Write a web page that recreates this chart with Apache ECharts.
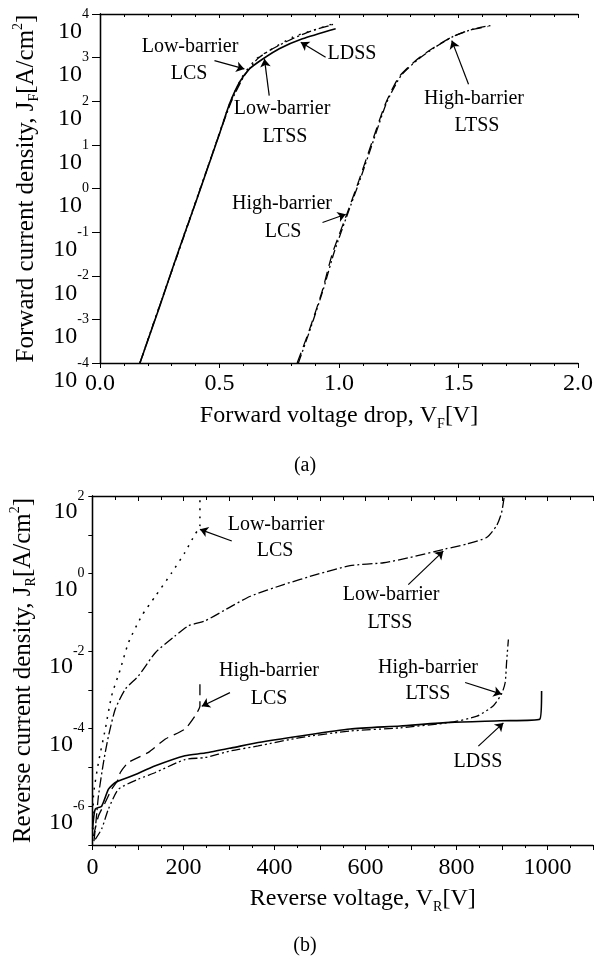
<!DOCTYPE html>
<html><head><meta charset="utf-8">
<script src="https://cdn.jsdelivr.net/npm/echarts@6/dist/echarts.min.js"></script>
<style>html,body{margin:0;padding:0;background:#fff}#c{width:596px;height:959px}</style>
</head><body><div id="c"></div>
<script>
// ================= DATA: (a) forward characteristics =================
const fwdTickLabels = ['0.0', '0.5', '1.0', '1.5', '2.0'];
const fwdLowLDSS_V = [0.167, 0.20, 0.25, 0.30, 0.35, 0.40, 0.45, 0.50, 0.542, 0.585, 0.625, 0.681, 0.75, 0.847, 0.986];
const fwdLowLDSS_J = [1e-4, 3.3e-4, 2e-3, 1.3e-2, 8e-2, 0.47, 2.9, 18, 87, 280, 550, 930, 1600, 2700, 4600];
const fwdLowLCS_V = [0.167, 0.20, 0.25, 0.30, 0.35, 0.40, 0.45, 0.50, 0.545, 0.597, 0.653, 0.708, 0.806, 0.889, 0.972];
const fwdLowLCS_J = [1e-4, 3.4e-4, 2.1e-3, 1.3e-2, 8.2e-2, 0.5, 3, 19, 95, 380, 930, 1450, 2950, 4200, 5900];
const fwdLowLTSS_V = [0.167, 0.21, 0.26, 0.31, 0.36, 0.41, 0.46, 0.51, 0.55, 0.60, 0.66, 0.72, 0.80, 0.88, 0.975];
const fwdLowLTSS_J = [1e-4, 4.8e-4, 3e-3, 1.8e-2, 0.11, 0.69, 4.3, 26, 100, 355, 950, 1580, 2630, 4000, 5750];
const fwdHighLCS_V = [0.825, 0.875, 0.93, 0.972, 1.035, 1.083, 1.139, 1.194, 1.25, 1.32, 1.389, 1.472, 1.542, 1.625];
const fwdHighLCS_J = [1e-4, 5.5e-4, 4.5e-3, 3.2e-2, 0.28, 1.5, 12, 87, 355, 850, 1600, 2950, 4200, 5200];
const fwdHighLTSS_V = [0.83, 0.88, 0.935, 0.98, 1.04, 1.09, 1.145, 1.20, 1.26, 1.33, 1.40, 1.48, 1.56, 1.646];
const fwdHighLTSS_J = [1e-4, 6e-4, 5e-3, 3.5e-2, 0.3, 1.7, 13, 95, 390, 900, 1700, 3100, 4500, 5600];

// ================= DATA: (b) reverse characteristics =================
const revTickLabels = [0, 200, 400, 600, 800, 1000];
const revLowLCS_V = [1, 2, 13, 28, 42, 61, 79, 108, 138, 174, 203, 225, 236, 236];
const revLowLCS_J = [2.5e-7, 1.9e-6, 1.35e-5, 9.8e-5, 7.1e-4, 3.4e-3, 1.66e-2, 8.1e-2, 0.26, 1.05, 3.5, 10.2, 17, 100];
const revLowLTSS_V = [3, 6, 13, 24, 35, 50, 72, 101, 138, 181, 211, 247, 306, 347, 420, 493, 566, 640, 698, 775, 823, 866, 888, 899, 905];
const revLowLTSS_J = [1.26e-7, 2.6e-7, 1.86e-6, 1.35e-5, 6.5e-5, 3.2e-4, 1.05e-3, 2.3e-3, 9.1e-3, 2.45e-2, 4.5e-2, 6e-2, 0.145, 0.26, 0.52, 0.95, 1.6, 1.9, 2.6, 4.3, 5.8, 8.5, 17, 37, 100];
const revHighLCS_V = [2, 13, 28, 42, 57, 61, 79, 123, 160, 203, 225, 236, 236];
const revHighLCS_J = [1.7e-7, 5.6e-7, 1.26e-6, 2.75e-6, 5e-6, 7.4e-6, 1.35e-5, 2.45e-5, 5.4e-5, 9.8e-5, 2.1e-4, 3.9e-4, 1.4e-3];
const revLDSS_V = [0, 6, 20, 35, 50, 86, 138, 203, 247, 306, 364, 457, 566, 676, 786, 896, 983, 987];
const revLDSS_J = [2.6e-7, 8.5e-7, 1.0e-6, 2.75e-6, 4.1e-6, 6e-6, 1.1e-5, 2e-5, 2.35e-5, 3.2e-5, 4.4e-5, 6.5e-5, 9.8e-5, 1.17e-4, 1.45e-4, 1.6e-4, 1.75e-4, 9.3e-4];
const revHighLTSS_V = [6, 20, 35, 57, 101, 138, 203, 247, 306, 364, 457, 566, 676, 786, 845, 881, 899, 907, 910, 914];
const revHighLTSS_J = [1.4e-7, 2.6e-7, 8.5e-7, 2.75e-6, 5e-6, 7.4e-6, 1.6e-5, 1.8e-5, 2.7e-5, 3.6e-5, 5.9e-5, 8.7e-5, 1.05e-4, 1.45e-4, 2.1e-4, 3.9e-4, 7.8e-4, 1.55e-3, 5e-3, 2e-2];

// ================= annotation arrows (data coords: tail, head) =================
const fwdArrows = [
  [[0.479, 851], [0.604, 550]],
  [[0.708, 135], [0.688, 933]],
  [[0.944, 1023], [0.840, 2240]],
  [[1.542, 245], [1.472, 2455]],
  [[0.931, 0.166], [1.028, 0.257]]
];
const revArrows = [
  [[306, 6.9], [236, 13.8]],
  [[694, 0.52], [771, 3.8]],
  [[302, 8.5e-4], [240, 3.8e-4]],
  [[819, 1.55e-3], [899, 7.8e-4]],
  [[848, 3.55e-5], [903, 1.41e-4]]
];

// ================= styling =================
const FONT = '"Liberation Serif","Times New Roman",serif';
const BLACK = '#000';
const zip = (xs, ys) => xs.map((x, i) => [x, ys[i]]);
const dash = {
  solid: 'solid',
  dotted: [2, 6],
  dashDot: [10, 3, 2, 3],
  dashed: [11, 6],
  dashDotDot: [9, 3, 2, 3, 2, 3]
};

function lineSeries(name, xi, yi, data, type, width, extra) {
  return Object.assign({
    name, type: 'line', xAxisIndex: xi, yAxisIndex: yi, data,
    symbol: 'none', smooth: 0.2, silent: true,
    lineStyle: { color: BLACK, width: width || 1.3, type: dash[type] }
  }, extra || {});
}
function arrowMark(arrows) {
  return {
    silent: true, symbol: ['none', 'arrow'], symbolSize: 8,
    label: { show: false },
    lineStyle: { color: BLACK, width: 1.2, type: 'solid' },
    emphasis: { disabled: true },
    data: arrows.map(a => [{ coord: a[0] }, { coord: a[1] }])
  };
}

const expRich = (h) => ({
  b: { fontFamily: FONT, fontSize: 24, lineHeight: 24, verticalAlign: 'bottom', color: BLACK },
  e: { fontFamily: FONT, fontSize: 14, lineHeight: h, verticalAlign: 'middle', color: BLACK }
});
const titleRich = (fs) => ({
  t: { fontFamily: FONT, fontSize: fs, lineHeight: 30, color: BLACK },
  s: { fontFamily: FONT, fontSize: 14, lineHeight: 14, verticalAlign: 'bottom', color: BLACK },
  p: { fontFamily: FONT, fontSize: 14, lineHeight: 14, verticalAlign: 'top', color: BLACK }
});
const axLine = { show: true, lineStyle: { color: BLACK, width: 1.3 } };

const option = {
  animation: false,
  backgroundColor: '#fff',
  grid: [
    { left: 100, top: 14, width: 480, height: 349 },
    { left: 92, top: 496, width: 501, height: 349 }
  ],
  xAxis: [
    { gridIndex: 0, type: 'value', min: 0, max: 2, interval: 0.5, position: 'bottom',
      axisLine: axLine, splitLine: { show: false },
      axisTick: { inside: false, length: 5, lineStyle: { color: BLACK } },
      minorTick: { show: true, splitNumber: 5, length: 3, lineStyle: { color: BLACK } },
      axisLabel: { margin: 9, color: BLACK, fontFamily: FONT, fontSize: 24,
        formatter: v => fwdTickLabels[Math.round(v / 0.5)] || '' },
      name: '{t|Forward voltage drop, V}{s|F}{t|[V]}', nameLocation: 'middle', nameGap: 38,
      nameTextStyle: { rich: titleRich(24) } },
    { gridIndex: 0, type: 'value', min: 0, max: 2, interval: 0.5, position: 'top',
      axisLine: axLine, splitLine: { show: false }, axisLabel: { show: false },
      axisTick: { inside: true, length: 4, lineStyle: { color: BLACK } },
      minorTick: { show: true, splitNumber: 5, length: 3, lineStyle: { color: BLACK } } },
    { gridIndex: 1, type: 'value', min: 0, max: 1100, interval: 100, position: 'bottom',
      axisLine: axLine, splitLine: { show: false },
      axisTick: { inside: false, length: 5, lineStyle: { color: BLACK } },
      minorTick: { show: true, splitNumber: 2, length: 3, lineStyle: { color: BLACK } },
      axisLabel: { margin: 11, color: BLACK, fontFamily: FONT, fontSize: 24,
        formatter: v => revTickLabels.indexOf(v) >= 0 ? String(v) : '' },
      name: '{t|Reverse voltage, V}{s|R}{t|[V]}', nameLocation: 'middle', nameGap: 39,
      nameTextStyle: { rich: titleRich(24), padding: [0, 0, 0, 40] } },
    { gridIndex: 1, type: 'value', min: 0, max: 1100, interval: 100, position: 'top',
      axisLine: axLine, splitLine: { show: false }, axisLabel: { show: false },
      axisTick: { inside: true, length: 5, lineStyle: { color: BLACK } },
      minorTick: { show: true, splitNumber: 2, length: 4, lineStyle: { color: BLACK } } }
  ],
  yAxis: [
    { gridIndex: 0, type: 'log', logBase: 10, min: 1e-4, max: 1e4, position: 'left',
      axisLine: axLine, splitLine: { show: false },
      axisTick: { inside: false, length: 7, lineStyle: { color: BLACK } },
      axisLabel: { margin: 11, formatter: v => '{b|10}{e|' + Math.round(Math.log10(v)) + '}', rich: expRich(59) },
      name: '{t|Forward current density, J}{s|F}{t|[A/cm}{p|2}{t|]}', nameLocation: 'middle', nameRotate: 90, nameGap: 59,
      nameTextStyle: { rich: titleRich(25) } },
    { gridIndex: 0, type: 'log', logBase: 10, min: 1e-4, max: 1e4, position: 'right',
      axisLine: axLine, splitLine: { show: false }, axisLabel: { show: false },
      axisTick: { inside: true, length: 8, lineStyle: { color: BLACK } } },
    { gridIndex: 1, type: 'log', logBase: 10, min: 1e-7, max: 1e2, position: 'left',
      axisLine: axLine, splitLine: { show: false },
      axisTick: { inside: false, length: 4, lineStyle: { color: BLACK } },
      axisLabel: { margin: 8, rich: expRich(56), formatter: v => {
        const e = Math.round(Math.log10(v));
        return e % 2 === 0 ? '{b|10}{e|' + e + '}' : '';
      } },
      name: '{t|Reverse current density, J}{s|R}{t|[A/cm}{p|2}{t|]}', nameLocation: 'middle', nameRotate: 90, nameGap: 51,
      nameTextStyle: { rich: titleRich(25) } },
    { gridIndex: 1, type: 'log', logBase: 10, min: 1e-7, max: 1e2, position: 'right',
      axisLine: axLine, splitLine: { show: false }, axisLabel: { show: false },
      axisTick: { inside: true, length: 4, lineStyle: { color: BLACK } } }
  ],
  series: [
    lineSeries('Low-barrier LDSS (a)', 0, 0, zip(fwdLowLDSS_V, fwdLowLDSS_J), 'solid', 1.6, { markLine: arrowMark(fwdArrows) }),
    lineSeries('Low-barrier LCS (a)', 0, 0, zip(fwdLowLCS_V, fwdLowLCS_J), 'dotted', 1.4),
    lineSeries('Low-barrier LTSS (a)', 0, 0, zip(fwdLowLTSS_V, fwdLowLTSS_J), 'dashDot', 1.3),
    lineSeries('High-barrier LCS (a)', 0, 0, zip(fwdHighLCS_V, fwdHighLCS_J), 'dashed', 1.3),
    lineSeries('High-barrier LTSS (a)', 0, 0, zip(fwdHighLTSS_V, fwdHighLTSS_J), 'dashDotDot', 1.3),
    lineSeries('LDSS (b)', 2, 2, zip(revLDSS_V, revLDSS_J), 'solid', 1.6, { markLine: arrowMark(revArrows) }),
    lineSeries('Low-barrier LCS (b)', 2, 2, zip(revLowLCS_V, revLowLCS_J), 'dotted', 1.5),
    lineSeries('Low-barrier LTSS (b)', 2, 2, zip(revLowLTSS_V, revLowLTSS_J), 'dashDot', 1.3),
    lineSeries('High-barrier LCS (b)', 2, 2, zip(revHighLCS_V, revHighLCS_J), 'dashed', 1.3),
    lineSeries('High-barrier LTSS (b)', 2, 2, zip(revHighLTSS_V, revHighLTSS_J), 'dashDotDot', 1.3)
  ],
  graphic: []
};

// annotation texts (pixel placement of labels)
const annot = [
  ['Low-barrier', 190, 47], ['LCS', 189, 74],
  ['Low-barrier', 282, 109], ['LTSS', 285, 137],
  ['LDSS', 352, 54],
  ['High-barrier', 474, 99], ['LTSS', 477, 126],
  ['High-barrier', 282, 204], ['LCS', 283, 232],
  ['Low-barrier', 276, 525], ['LCS', 275, 551],
  ['Low-barrier', 391, 595], ['LTSS', 390, 623],
  ['High-barrier', 269, 671], ['LCS', 269, 699],
  ['High-barrier', 428, 668], ['LTSS', 428, 694],
  ['LDSS', 478, 762]
];
annot.forEach(a => option.graphic.push({
  type: 'text', silent: true, z: 10,
  style: { text: a[0], x: a[1], y: a[2], fill: BLACK, font: '20px ' + FONT, align: 'center', verticalAlign: 'middle' }
}));
option.graphic.push(
  { type: 'text', silent: true, style: { text: '(a)', x: 305, y: 466, fill: BLACK, font: '20px ' + FONT, align: 'center', verticalAlign: 'middle' } },
  { type: 'text', silent: true, style: { text: '(b)', x: 305, y: 946, fill: BLACK, font: '20px ' + FONT, align: 'center', verticalAlign: 'middle' } }
);

const chart = echarts.init(document.getElementById('c'), null, { renderer: 'canvas' });
chart.setOption(option);
</script>
</body></html>
